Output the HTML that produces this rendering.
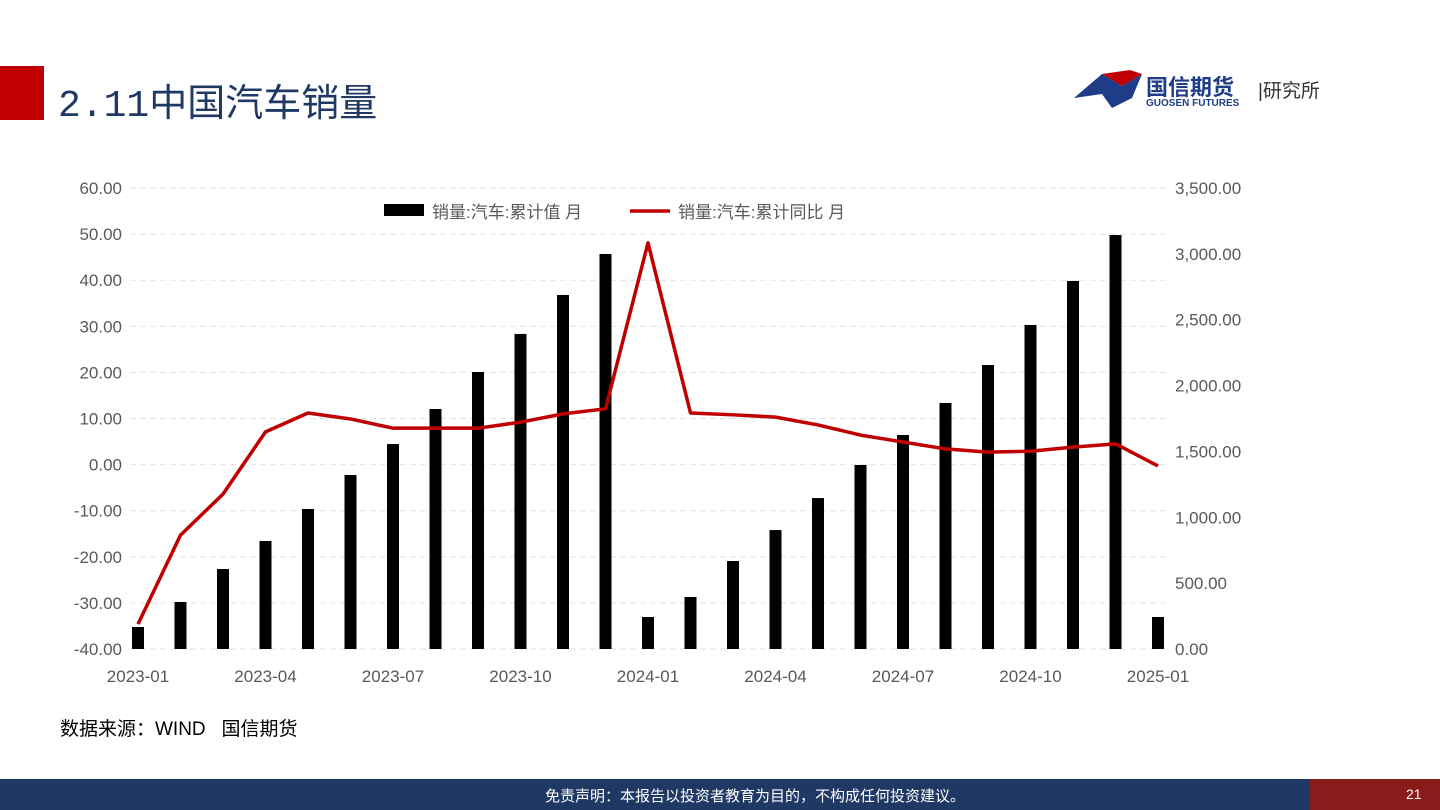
<!DOCTYPE html>
<html><head><meta charset="utf-8"><style>
body{margin:0;width:1440px;height:810px;background:#fff;position:relative;overflow:hidden;font-family:"Liberation Sans","Noto Sans CJK SC",sans-serif}
.abs{position:absolute}
</style></head><body>
<div class="abs" style="left:0;top:66px;width:44px;height:54px;background:#c00000"></div>
<div class="abs" style="left:58px;top:72px;font-size:38px;color:#1f3864;font-family:'Liberation Mono','Noto Sans CJK SC',sans-serif">2.11中国汽车销量</div>
<div class="abs" style="left:1072px;top:68px;width:290px;height:46px">
<svg width="72" height="44" style="position:absolute;left:0;top:0"><polygon points="2,30 30,6 50,18 70,6 60,30 40,40 30,26" fill="#1f3c88"/><polygon points="30,6 50,18 70,6 58,2" fill="#c00000"/></svg>
<div class="abs" style="left:74px;top:2px;font-size:22px;font-weight:bold;color:#1f3c88">国信期货</div>
<div class="abs" style="left:74px;top:30px;font-size:10px;font-weight:bold;color:#1f3c88">GUOSEN FUTURES</div>
<div class="abs" style="left:186px;top:8px;font-size:19px;color:#333">|研究所</div>
</div>
<svg class="abs" style="left:0;top:0" width="1440" height="810" id="chart"></svg>
<div class="abs" style="left:60px;top:714px;font-size:19px;color:#000">数据来源：WIND&nbsp;&nbsp;&nbsp;国信期货</div>
<div class="abs" style="left:0;top:779px;width:1440px;height:31px;background:#1f3864"></div>
<div class="abs" style="left:1310px;top:779px;width:130px;height:31px;background:#8b1a1a"></div>
<div class="abs" style="left:545px;top:785px;font-size:15px;color:#fff">免责声明：本报告以投资者教育为目的，不构成任何投资建议。</div>
<div class="abs" style="left:1406px;top:786px;font-size:14px;color:#fff">21</div>
<script>
const categories=["2023-01","2023-02","2023-03","2023-04","2023-05","2023-06","2023-07","2023-08","2023-09","2023-10","2023-11","2023-12","2024-01","2024-02","2024-03","2024-04","2024-05","2024-06","2024-07","2024-08","2024-09","2024-10","2024-11","2024-12","2025-01"];
const salesCum=[167,357,607,820,1063,1321,1556,1822,2103,2392,2688,2999,243,395,668,903,1146,1397,1625,1868,2156,2460,2794,3143,243];
const salesYoY=[-34.6,-15.3,-6.4,7.1,11.2,9.9,7.9,7.9,7.9,9.2,11.0,12.1,48.1,11.2,10.8,10.3,8.6,6.4,4.9,3.4,2.7,2.9,3.8,4.5,-0.3];
const leftTicks=[60,50,40,30,20,10,0,-10,-20,-30,-40];
const rightTicks=[3500,3000,2500,2000,1500,1000,500,0];
const xTickIdx=[0,3,6,9,12,15,18,21,24];
const svg=document.getElementById('chart');const NS='http://www.w3.org/2000/svg';
const plotTop=188,plotBot=649,x0=138,x1=1158;
const yL=v=>plotBot-(v+40)/100*(plotBot-plotTop);
const yR=v=>plotBot-v/3500*(plotBot-plotTop);
const xS=i=>x0+i*(x1-x0)/(categories.length-1);
function mk(t,a,txt){const e=document.createElementNS(NS,t);for(const k in a)e.setAttribute(k,a[k]);if(txt!==undefined)e.textContent=txt;svg.appendChild(e);return e;}
leftTicks.forEach(v=>{
const g=mk('line',{x1:130,x2:1170,y1:yL(v),y2:yL(v),stroke:'#e3e3e3','stroke-dasharray':'6,4'});


const t=mk('text',{x:122,y:yL(v)+6,'text-anchor':'end','font-size':17,fill:'#595959'},v.toFixed(2));


});
rightTicks.forEach(v=>{
const t=mk('text',{x:1175,y:yR(v)+6,'font-size':17,fill:'#595959'},v.toLocaleString('en-US',{minimumFractionDigits:2}));


});
xTickIdx.forEach(i=>{
const t=mk('text',{x:xS(i),y:682,'text-anchor':'middle','font-size':17,fill:'#595959'},categories[i]);


});
salesCum.forEach((v,i)=>{
const r=mk('rect',{x:xS(i)-6,y:yR(v),width:12,height:plotBot-yR(v),fill:'#000'});


});
const pl=mk('polyline',{points:salesYoY.map((v,i)=>xS(i)+','+yL(v)).join(' '),fill:'none',stroke:'#c00000','stroke-width':3.5,'stroke-linejoin':'round'});


const lb=mk('rect',{x:384,y:204,width:40,height:12,fill:'#000'});


const lt=mk('text',{x:432,y:218,'font-size':17,fill:'#595959'},'销量:汽车:累计值 月');


const ll=mk('line',{x1:630,x2:670,y1:211,y2:211,stroke:'#c00000','stroke-width':3.5});


const lt2=mk('text',{x:678,y:218,'font-size':17,fill:'#595959'},'销量:汽车:累计同比 月');


</script>
</body></html>
